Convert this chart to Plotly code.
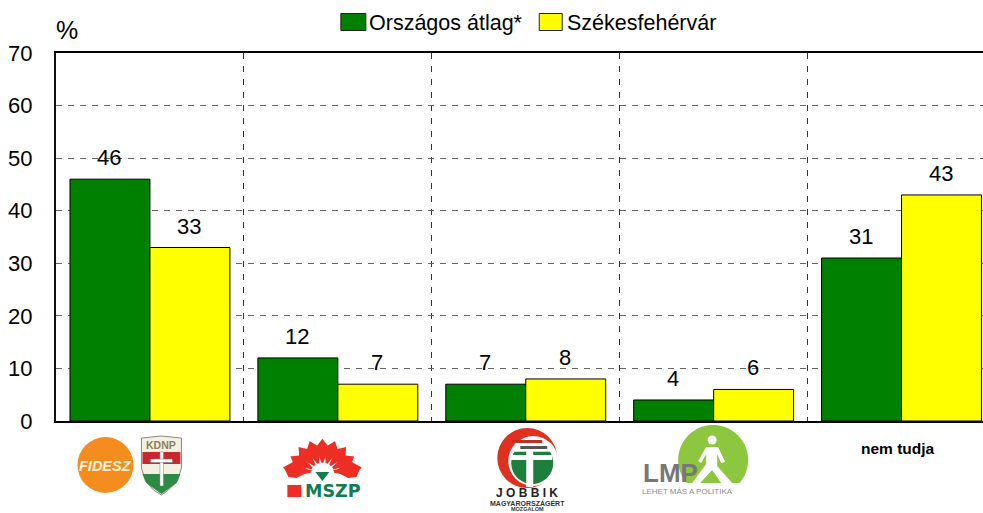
import math
import plotly.graph_objects as go

categories = ["Fidesz-KDNP", "MSZP", "Jobbik", "LMP", "nem tudja"]
orszagos = [46, 12, 7, 4, 31]
szekesfehervar = [33, 7, 8, 6, 43]
series_names = ["Országos átlag*", "Székesfehérvár"]
y_ticks = [0, 10, 20, 30, 40, 50, 60, 70]

W, H = 983, 513
L, R, T, B = 55.5, 983, 53, 421
FONT = "Liberation Sans, Arial, sans-serif"
GREEN, YELLOW = "#008000", "#FFFF00"


def px(x):
    return (x - L) / (R - L)


def py(y):
    return (B - y) / (B - T)


def poly(points):
    return "M " + " L ".join(f"{px(x):.5f},{py(y):.5f}" for x, y in points) + " Z"


shapes, annotations = [], []


def add_path(points, fill, line=None, width=0):
    shapes.append(dict(type="path", xref="paper", yref="paper", path=poly(points),
                       fillcolor=fill, line=dict(color=line or fill, width=width), layer="above"))


def circle(cx, cy, r, fill):
    shapes.append(dict(type="circle", xref="paper", yref="paper", x0=px(cx - r), x1=px(cx + r),
                       y0=py(cy + r), y1=py(cy - r), fillcolor=fill, line=dict(width=0), layer="above"))


def rect(x0, y0, x1, y1, fill, line=None, width=0):
    shapes.append(dict(type="rect", xref="paper", yref="paper", x0=px(x0), x1=px(x1),
                       y0=py(y1), y1=py(y0), fillcolor=fill,
                       line=dict(color=line or fill, width=width), layer="above"))


def text(x, y, s, size, color="#000", bold=False, italic=False, anchor="center", family=FONT):
    if bold:
        s = f"<b>{s}</b>"
    if italic:
        s = f"<i>{s}</i>"
    annotations.append(dict(xref="paper", yref="paper", x=px(x), y=py(y), text=s, showarrow=False,
                            xanchor=anchor, yanchor="middle", borderpad=0,
                            font=dict(size=size, color=color, family=family)))


def arc(cx, cy, r, a0, a1, n=40):
    return [(cx + r * math.cos(math.radians(a0 + (a1 - a0) * i / n)),
             cy - r * math.sin(math.radians(a0 + (a1 - a0) * i / n))) for i in range(n + 1)]


# legend
rect(340.5, 13.5, 365.5, 30.5, GREEN, "#222", 1)
text(368, 23, series_names[0], 21.5, anchor="left")
rect(539, 13.5, 562, 30.5, YELLOW, "#222", 1)
text(566, 23, series_names[1], 21.5, anchor="left")
text(67, 30, "%", 25)

# Fidesz + KDNP
circle(105, 465, 28, "#F58D1E")
text(105, 466, "FIDESZ", 14.5, "#FFF1DC", bold=True, italic=True)
shield = [(141, 438), (161, 436), (181, 438), (181, 468), (177, 481), (168, 490), (161, 495),
          (153, 490), (145, 481), (141, 468)]
add_path(shield, "#F4F1E4", "#8A8A7A", 1)
rect(142, 452, 180, 464, "#C8282E")
add_path([(142, 474), (180, 474), (176, 483), (168, 489), (161, 494), (154, 489), (146, 483)], "#2E8B45")
rect(159.5, 452, 163, 486, "#FFFFFF", "#777", 0.5)
rect(150, 459, 172, 462.5, "#FFFFFF", "#777", 0.5)
text(161, 445, "KDNP", 10.5, "#8A7F55", bold=True)

# MSZP
for a in [10, 30, 50, 70, 90, 110, 130, 150, 170]:
    a0 = math.radians(a)
    cx, cy = 322, 474
    rr = 40 if a in (10, 170) else 37
    rb = 12
    pts = []
    for rad, off in ((rb, 5), (rr - 8, 13), (rr, 0), (rr - 8, -13), (rb, -5)):
        t = a0 + math.radians(off)
        pts.append((cx + rad * math.cos(t), cy - rad * 0.95 * math.sin(t)))
    add_path(pts, "#EE2E24")
add_path([(284, 468), (312, 470), (296, 478), (288, 477)], "#EE2E24")
add_path([(360, 468), (332, 470), (348, 478), (356, 477)], "#EE2E24")
add_path([(315, 472), (329, 472), (322, 481)], "#0E7D55")
rect(287, 485, 301, 497, "#EE2E24")
text(332.5, 491, "MSZP", 17.5, "#0E7D55", bold=True, family="DejaVu Sans")

# Jobbik
circle(527, 458, 30, "#E03020")
circle(533, 461, 25, "#FFFFFF")
add_path(arc(532, 463, 21, 148, 392), "#1E7F3C")
rect(526, 437, 533, 487, "#FFFFFF")
rect(510, 455, 552, 460, "#FFFFFF")
rect(520, 446, 547, 449, "#555555")
rect(512, 440, 542, 443, "#C03020")
text(527, 493, "J O B B I K", 12, "#222", bold=True)
text(527, 502.5, "MAGYARORSZÁGÉRT", 7, "#333", bold=True)
text(527, 509, "MOZGALOM", 5.5, "#333", bold=True)

# LMP
a = math.degrees(math.asin(23 / 35))
add_path(arc(713, 460, 35, -a, 180 + a, 70), "#8DC63F")
circle(712, 440, 4.5, "#FFFFFF")
add_path([(706, 447), (718, 447), (725, 462), (721, 463), (717, 454), (717, 466), (732, 483),
          (721, 483), (712, 470), (700, 483), (692, 483), (706, 464), (706, 454), (701, 463), (698, 461)],
         "#FFFFFF")
text(642, 473, "LMP", 26, "#777777", bold=True, anchor="left")
text(687, 491.5, "LEHET MÁS A POLITIKA", 8, "#8C8C8C")

text(898, 448.5, "nem tudja", 15.5, "#000", bold=True)

# value labels
offset = 80 / 188 / 2
xs = list(range(len(categories)))
for vals, sign in ((orszagos, -1), (szekesfehervar, 1)):
    for i, v in zip(xs, vals):
        annotations.append(dict(x=i + sign * offset - 0.004, y=v, xref="x", yref="y", text=str(v), showarrow=False,
                                yanchor="bottom", yshift=7, font=dict(size=22, color="#000", family=FONT)))

fig = go.Figure()
fig.add_bar(x=xs, y=orszagos, name=series_names[0], marker=dict(color=GREEN, line=dict(color="#000", width=1)))
fig.add_bar(x=xs, y=szekesfehervar, name=series_names[1], marker=dict(color=YELLOW, line=dict(color="#000", width=1)))

fig.update_layout(
    width=W, height=H, autosize=False, showlegend=False,
    barmode="group", bargap=28 / 188, bargroupgap=0,
    paper_bgcolor="#fff", plot_bgcolor="#fff",
    margin=dict(l=L, r=W - R, t=T, b=H - B, pad=0),
    font=dict(family=FONT, color="#000"),
    shapes=shapes, annotations=annotations,
    xaxis=dict(range=[-0.5, -0.5 + (R - L) / 188], tickmode="array", tickvals=[0.5, 1.5, 2.5, 3.5],
               showticklabels=False, ticks="", showgrid=True, gridcolor="#333", gridwidth=1,
               griddash="6px,7px", zeroline=False, showline=True, linecolor="#000", linewidth=2,
               mirror=True),
    yaxis=dict(range=[0, 70], tickmode="array", tickvals=y_ticks, ticks="outside", ticklen=17,
               tickcolor="rgba(0,0,0,0)", tickfont=dict(size=22, family=FONT, color="#000"),
               showgrid=True, gridcolor="#666", gridwidth=1, griddash="6px,6px", zeroline=False,
               showline=True, linecolor="#111", linewidth=2),
)
fig.write_html("out.html", config=dict(displayModeBar=False),
               post_script="document.body.style.margin='0';document.body.style.overflow='hidden';")
